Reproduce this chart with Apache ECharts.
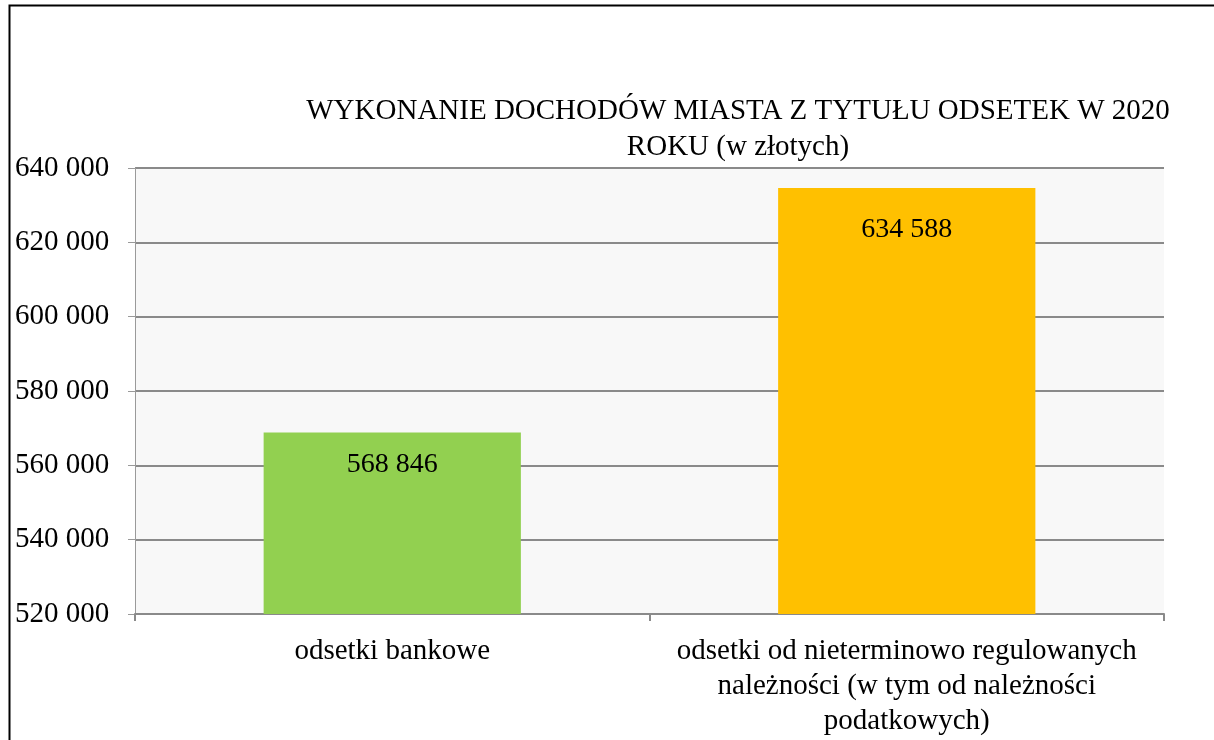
<!DOCTYPE html>
<html>
<head>
<meta charset="utf-8">
<script src="https://cdn.jsdelivr.net/npm/echarts@6/dist/echarts.min.js"></script>
<style>
    html, body { margin: 0; padding: 0; background: #fff; }
    #chart { width: 1214px; height: 740px; }
</style>
</head>
<body>
<div id="chart"></div>
<script>
    var categories = [
        'odsetki bankowe',
        'odsetki od nieterminowo regulowanych\nnależności (w tym od należności\npodatkowych)'
    ];
    var values = [568846, 634588];
    var barColors = ['#92D050', '#FFC000'];
    var yTicks = [520000, 540000, 560000, 580000, 600000, 620000, 640000];

    var font = '"Liberation Serif", "Times New Roman", serif';
    var labelGaps = [18, 28];

    function formatNumber(v) {
        return String(v).replace(/\B(?=(\d{3})+(?!\d))/g, ' ');
    }

    var chart = echarts.init(document.getElementById('chart'));

    var option = {
        animation: false,
        backgroundColor: '#ffffff',
        title: {
            text: 'WYKONANIE DOCHODÓW MIASTA Z TYTUŁU ODSETEK W 2020\nROKU (w złotych)',
            left: 733,
            top: 88,
            textAlign: 'center',
            textStyle: {
                fontFamily: font,
                fontSize: 29,
                fontWeight: 'normal',
                color: '#000',
                lineHeight: 36
            }
        },
        graphic: [{
            type: 'rect',
            left: 7,
            top: 3,
            shape: { width: 1230, height: 760 },
            style: { fill: 'none', stroke: '#000', lineWidth: 2 },
            silent: true
        }],
        grid: {
            left: 135,
            right: 50,
            top: 168,
            bottom: 126,
            show: true,
            backgroundColor: '#f8f8f8',
            borderWidth: 0
        },
        xAxis: {
            type: 'category',
            data: categories,
            axisLine: { lineStyle: { color: '#8a8a8a', width: 2 } },
            axisTick: { show: true, length: 7, lineStyle: { color: '#8a8a8a', width: 2 } },
            axisLabel: {
                margin: 20,
                interval: 0,
                fontFamily: font,
                fontSize: 29,
                color: '#000',
                lineHeight: 35
            }
        },
        yAxis: {
            type: 'value',
            min: yTicks[0],
            max: yTicks[yTicks.length - 1],
            interval: yTicks[1] - yTicks[0],
            axisLine: { show: true, lineStyle: { color: '#9a9a9a', width: 1 } },
            axisTick: { show: true, length: 7, lineStyle: { color: '#9a9a9a' } },
            splitLine: { lineStyle: { color: '#8a8a8a', width: 2 } },
            axisLabel: {
                align: 'left',
                margin: 120,
                fontFamily: font,
                fontSize: 29,
                color: '#000',
                formatter: formatNumber
            }
        },
        series: [{
            type: 'bar',
            barWidth: '50%',
            data: values.map(function (v, i) {
                return {
                    value: v,
                    itemStyle: { color: barColors[i] },
                    label: { distance: labelGaps[i] }
                };
            }),
            label: {
                show: true,
                position: 'insideTop',
                fontFamily: font,
                fontSize: 28,
                color: '#000',
                formatter: function (p) { return formatNumber(p.value); }
            }
        }]
    };

    chart.setOption(option);
</script>
</body>
</html>
